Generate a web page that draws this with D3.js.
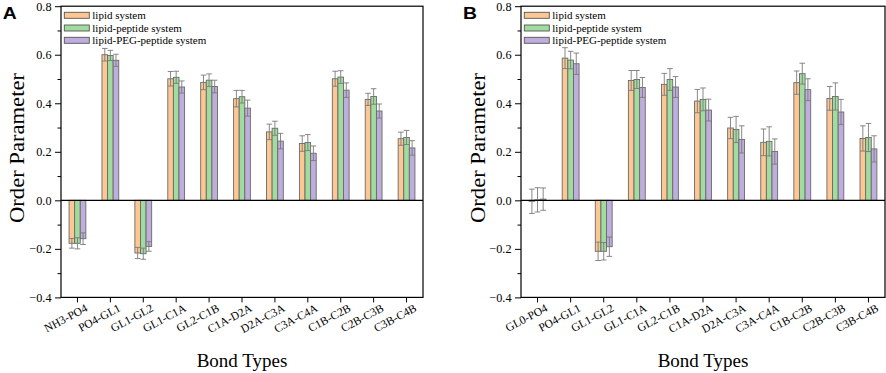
<!DOCTYPE html>
<html><head><meta charset="utf-8">
<script src="https://cdn.jsdelivr.net/npm/d3@7"></script>
<style>body{margin:0;background:#fff}svg{display:block}</style>
</head><body>
<svg id="chart" width="886" height="373"></svg>
<script>
const seriesNames = ["lipid system", "lipid-peptide system", "lipid-PEG-peptide system"];
const seriesColors = ["#FDC793", "#A0DC9E", "#BFAEDD"];

const categoriesA = ["NH3-PO4","PO4-GL1","GL1-GL2","GL1-C1A","GL2-C1B","C1A-D2A","D2A-C3A","C3A-C4A","C1B-C2B","C2B-C3B","C3B-C4B"];
const lipidA   = [-0.177, 0.600, -0.217, 0.501, 0.486, 0.419, 0.282, 0.234, 0.501, 0.416, 0.254];
const peptideA = [-0.177, 0.597, -0.220, 0.507, 0.495, 0.427, 0.297, 0.238, 0.508, 0.428, 0.259];
const pegA     = [-0.158, 0.577, -0.190, 0.467, 0.469, 0.380, 0.244, 0.194, 0.454, 0.368, 0.216];
const lipidErrA   = [0.020, 0.026, 0.023, 0.030, 0.030, 0.034, 0.032, 0.032, 0.031, 0.025, 0.027];
const peptideErrA = [0.023, 0.021, 0.023, 0.025, 0.026, 0.026, 0.029, 0.033, 0.026, 0.032, 0.029];
const pegErrA     = [0.024, 0.025, 0.020, 0.025, 0.026, 0.033, 0.032, 0.030, 0.030, 0.029, 0.030];

const categoriesB = ["GL0-PO4","PO4-GL1","GL1-GL2","GL1-C1A","GL2-C1B","C1A-D2A","D2A-C3A","C3A-C4A","C1B-C2B","C2B-C3B","C3B-C4B"];
const lipidB   = [-0.004, 0.586, -0.210, 0.494, 0.478, 0.409, 0.298, 0.239, 0.485, 0.420, 0.255];
const peptideB = [0.002, 0.578, -0.210, 0.498, 0.498, 0.416, 0.292, 0.243, 0.522, 0.428, 0.259];
const pegB     = [0.005, 0.563, -0.191, 0.465, 0.467, 0.372, 0.251, 0.201, 0.456, 0.364, 0.212];
const lipidErrB   = [0.050, 0.043, 0.038, 0.041, 0.045, 0.048, 0.044, 0.055, 0.048, 0.049, 0.052];
const peptideErrB = [0.050, 0.036, 0.036, 0.037, 0.045, 0.047, 0.054, 0.060, 0.043, 0.056, 0.058];
const pegErrB     = [0.046, 0.044, 0.040, 0.041, 0.043, 0.045, 0.056, 0.052, 0.045, 0.052, 0.054];

const yMajorTicks = [-0.4, -0.2, 0.0, 0.2, 0.4, 0.6, 0.8];
const yMinorTicks = [-0.3, -0.1, 0.1, 0.3, 0.5, 0.7];
const yDomain = [-0.4, 0.8];

const svg = d3.select("#chart");
const serif = "'Liberation Serif','Times New Roman',serif";

function panel(opts) {
  const {left, right, top, bottom, letter, letterX, cats, values, errs, ylabelX} = opts;
  const g = svg.append("g");
  const x = d3.scaleBand().domain(cats).range([left, right]).paddingInner(0).paddingOuter(0);
  const y = d3.scaleLinear().domain(yDomain).range([bottom, top]);
  const groupW = x.bandwidth() * 0.51;
  const xs = d3.scaleBand().domain(d3.range(3)).range([0, groupW]);

  for (let s = 0; s < 3; s++) {
    const data = cats.map((c, i) => ({c, v: values[s][i], e: errs[s][i]}));
    const bx = d => x(d.c) + (x.bandwidth() - groupW) / 2 + xs(s);
    g.append("g").selectAll("rect").data(data).join("rect")
      .attr("x", bx).attr("width", xs.bandwidth())
      .attr("y", d => y(Math.max(0, d.v)))
      .attr("height", d => Math.abs(y(d.v) - y(0)))
      .attr("fill", seriesColors[s]).attr("stroke", "#6a6a6a").attr("stroke-width", 0.9);
    const eb = g.append("g").attr("stroke", "#7a7a7a").attr("stroke-width", 0.9).attr("fill", "none");
    eb.selectAll("path").data(data).join("path")
      .attr("d", d => {
        const cx = bx(d) + xs.bandwidth() / 2;
        const hw = xs.bandwidth() / 2;
        const y1 = y(d.v + d.e), y2 = y(d.v - d.e);
        return `M${cx},${y1}V${y2}M${cx - hw},${y1}H${cx + hw}M${cx - hw},${y2}H${cx + hw}`;
      });
  }

  g.append("line").attr("x1", left).attr("x2", right).attr("y1", y(0)).attr("y2", y(0))
    .attr("stroke", "#000").attr("stroke-width", 1.2);

  g.append("rect").attr("x", left).attr("y", top).attr("width", right - left).attr("height", bottom - top)
    .attr("fill", "none").attr("stroke", "#000").attr("stroke-width", 1.2);

  const ya = g.append("g").attr("transform", `translate(${left},0)`)
    .call(d3.axisLeft(y).tickValues(yMajorTicks).tickFormat(d3.format(".1f")).tickSize(6).tickPadding(3.5));
  ya.select(".domain").remove();
  ya.selectAll("text").attr("font-family", serif).attr("font-size", 12.2).attr("fill", "#000");
  const ym = g.append("g").attr("transform", `translate(${left},0)`)
    .call(d3.axisLeft(y).tickValues(yMinorTicks).tickFormat("").tickSize(3.5));
  ym.select(".domain").remove();

  const xa = g.append("g").attr("transform", `translate(0,${bottom})`)
    .call(d3.axisBottom(x).tickSize(5).tickPadding(3));
  xa.select(".domain").remove();
  xa.selectAll("text").attr("font-family", serif).attr("font-size", 11.6).attr("fill", "#000")
    .attr("text-anchor", "end").attr("dx", "0.3em").attr("dy", "0.75em")
    .attr("transform", "rotate(-28)");

  g.append("text").attr("x", (left + right) / 2).attr("y", 367).attr("text-anchor", "middle")
    .attr("font-family", serif).attr("font-size", 19).text("Bond Types");
  g.append("text").attr("transform", `translate(${ylabelX},148) rotate(-90)`)
    .attr("text-anchor", "middle").attr("font-family", serif).attr("font-size", 20)
    .attr("textLength", 150).attr("lengthAdjust", "spacingAndGlyphs").text("Order Parameter");

  g.append("text").attr("x", letterX).attr("y", 19.3).attr("font-family", "'Liberation Sans',Arial,sans-serif")
    .attr("font-weight", "bold").attr("font-size", 17).attr("textLength", 14).attr("lengthAdjust", "spacingAndGlyphs").text(letter);

  const lg = g.append("g").attr("transform", `translate(${left + 3.3},0)`);
  const rows = [15.3, 28, 40.3];
  seriesNames.forEach((n, i) => {
    lg.append("rect").attr("x", 0).attr("y", rows[i] - 3).attr("width", 25).attr("height", 6)
      .attr("fill", seriesColors[i]).attr("stroke", "#555").attr("stroke-width", 0.9);
    lg.append("text").attr("x", 28).attr("y", rows[i]).attr("dy", "0.35em")
      .attr("font-family", serif).attr("font-size", 11).text(n);
  });
}

panel({left: 61, right: 423, top: 6.2, bottom: 297.4, letter: "A", letterX: 2.7,
  cats: categoriesA, values: [lipidA, peptideA, pegA], errs: [lipidErrA, peptideErrA, pegErrA], ylabelX: 24});
panel({left: 521, right: 885, top: 6.2, bottom: 297.4, letter: "B", letterX: 463,
  cats: categoriesB, values: [lipidB, peptideB, pegB], errs: [lipidErrB, peptideErrB, pegErrB], ylabelX: 484.5});
</script>
</body></html>
